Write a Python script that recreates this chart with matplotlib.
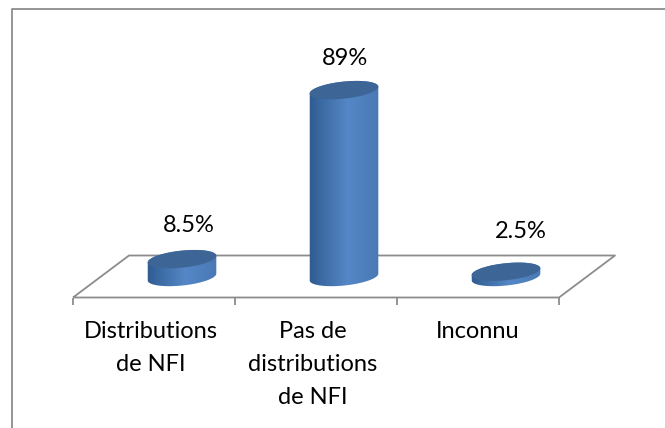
# -*- coding: utf-8 -*-
import matplotlib
matplotlib.use('Agg')
import matplotlib.pyplot as plt
import numpy as np
from matplotlib.patches import Polygon, PathPatch
from matplotlib.path import Path
from matplotlib.transforms import IdentityTransform

plt.rcParams['font.family'] = ['Lato', 'DejaVu Sans']

categories = ['Distributions\nde NFI', 'Pas de\ndistributions\nde NFI', 'Inconnu']
values = [8.5, 89, 2.5]
value_labels = ['8.5%', '89%', '2.5%']

W, H = 665, 428
BASE = 277
SCALE = 2.10
fig = plt.figure(figsize=(W / 100, H / 100), dpi=100)
# y: SCALE px per percent, base of the bars BASE px from the top
# x: 162 px per category
ax = fig.add_axes([0, 0, 1, 1])
xlim = ((0 - 182) / 162, (W - 182) / 162)
ylim = (-(H - BASE) / SCALE, BASE / SCALE)
ax.set_xlim(xlim)
ax.set_ylim(ylim)
ax.axis('off')
px = IdentityTransform()


def to_px(x, y):
    return ax.transData.transform((x, y))


def ellipse(cx, cy, a=34.5, b=8.5, tilt=6, n=80):
    t = np.linspace(0, 2 * np.pi, n)
    c, s = np.cos(np.radians(tilt)), np.sin(np.radians(tilt))
    ex, ey = a * np.cos(t), b * np.sin(t)
    return np.column_stack([cx + ex * c - ey * s, cy + ex * s + ey * c])


def cylinder(i, v):
    cx, y0 = to_px(i, 0)
    _, y1 = to_px(i, v)
    low = ellipse(cx, y0)
    top = ellipse(cx, y1)
    outline = np.vstack([low[40:80], top[0:41]])
    clip = PathPatch(Path(outline), transform=px, fc='none', ec='none')
    ax.add_patch(clip)
    grad = np.interp(np.linspace(0, 1, 70), [0, 0.15, 0.55, 1], [0, 0.3, 1, 0.7])
    dark = np.array([0x2e, 0x5b, 0x90]) / 255
    light = np.array([0x55, 0x87, 0xc6]) / 255
    img = dark + (light - dark) * grad[:, None]
    im = ax.imshow(img[None, :, :], extent=(cx - 35, cx + 35, y0 - 14, y1 + 14),
                   transform=px, aspect='auto', interpolation='bilinear', zorder=3)
    im.set_clip_path(clip)
    ax.add_patch(Polygon(top, closed=True, transform=px, fc='#3d6697', ec='none', zorder=4))


def line(xs, ys):
    ax.plot(xs, ys, color='#8c8c8c', lw=1.3, transform=px, solid_capstyle='butt', zorder=1)


# chart border, only left and top show
line([12, 12, W], [-5, H - 9, H - 9])

# floor
fy = H - 297.5
by = H - 255.5
line([73, 559, 615, 129, 73], [fy, fy, by, by, fy])
for tx in [73, 235, 397, 559]:
    line([tx, tx], [fy, fy - 7])

for i, v in enumerate(values):
    cylinder(i, v)

ax.set_xlim(xlim)
ax.set_ylim(ylim)

# labels
lab_x = [189, 345, 521]
lab_y = [225.5, 58.5, 231.5]
for s, x, y in zip(value_labels, lab_x, lab_y):
    ax.text(x, H - y, s, transform=px, ha='center', va='center', fontsize=17, color='black')
tick_shift = [-31, -31, -28]
for i, s in enumerate(categories):
    cx, _ = to_px(i, 0)
    ax.text(cx + tick_shift[i], H - 320.5, s, transform=px, ha='center', va='top', fontsize=17,
            color='black', linespacing=1.72)

fig.savefig('out.png', dpi=100)
